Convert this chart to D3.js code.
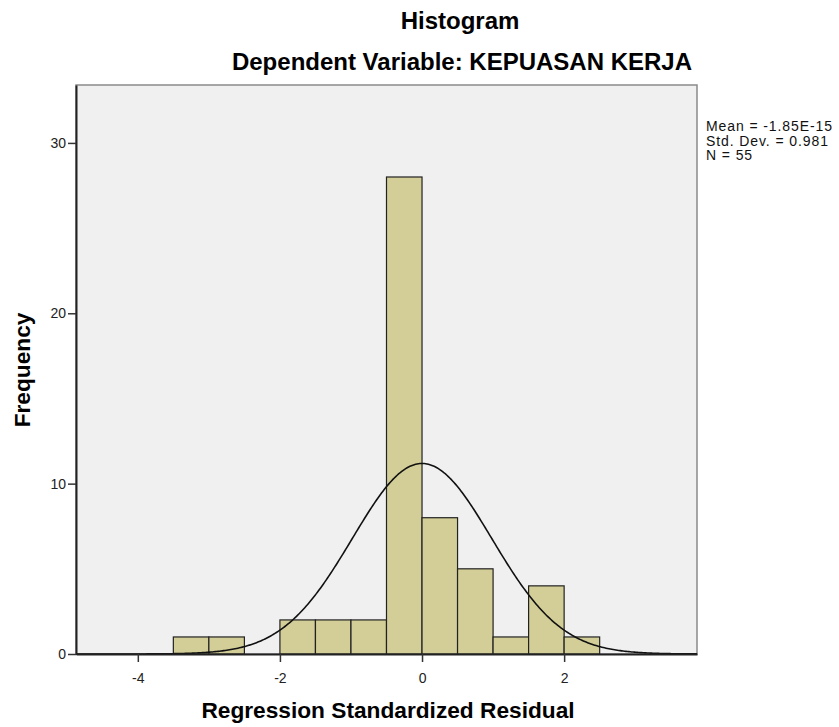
<!DOCTYPE html>
<html>
<head>
<meta charset="utf-8">
<script src="https://cdn.jsdelivr.net/npm/d3@7"></script>
<style>
  body { margin: 0; background: #fff; }
  text { font-family: Arial, "Liberation Sans", sans-serif; }
</style>
</head>
<body>
<script>
var width = 839,
    height = 727;

// bins of 0.5 width
var binStart = [-3.5, -3.0, -2.0, -1.5, -1.0, -0.5, 0.0, 0.5, 1.0, 1.5, 2.0];
var binCount = [1, 1, 2, 2, 2, 28, 8, 5, 1, 4, 1];
var binWidth = 0.5;

var xTicks = [-4, -2, 0, 2];
var yTicks = [0, 10, 20, 30];

var statMean = -1.85e-15,
    statSd = 0.981,
    statN = 55;
var statLabels = ["Mean = -1.85E-15", "Std. Dev. = 0.981", "N = 55"];

var m = {left: 76, right: 697, top: 85, bottom: 654};

var x = d3.scaleLinear()
    .domain([-4.87, 3.87])
    .range([m.left, m.right]);

var y = d3.scaleLinear()
    .domain([0, 33.4])
    .range([m.bottom, m.top]);

var svg = d3.select("body").append("svg")
    .attr("width", width)
    .attr("height", height);

// plot background
svg.append("rect")
    .attr("x", m.left)
    .attr("y", m.top)
    .attr("width", m.right - m.left)
    .attr("height", m.bottom - m.top)
    .attr("fill", "#f0f0f0")
    .attr("stroke", "#8a8a8a")
    .attr("stroke-width", 1.5);

// bars
svg.selectAll("rect.bar")
    .data(binStart)
    .enter().append("rect")
    .attr("class", "bar")
    .attr("x", function(d) { return x(d); })
    .attr("y", function(d, i) { return y(binCount[i]); })
    .attr("width", function(d) { return x(d + binWidth) - x(d); })
    .attr("height", function(d, i) { return y(0) - y(binCount[i]); })
    .attr("fill", "#d3ce97")
    .attr("stroke", "#222")
    .attr("stroke-width", 1.2);

// normal curve from the reported statistics
var curveX = d3.range(x.domain()[0], x.domain()[1] + 0.001, 0.02);
var norm = function(v) {
  var z = (v - statMean) / statSd;
  return statN * binWidth * Math.exp(-0.5 * z * z) / (statSd * Math.sqrt(2 * Math.PI));
};
svg.append("path")
    .datum(curveX)
    .attr("d", d3.line()
      .x(function(d) { return x(d); })
      .y(function(d) { return y(norm(d)); }))
    .attr("fill", "none")
    .attr("stroke", "#111")
    .attr("stroke-width", 1.6);

// axes (plain hyphen for negatives, like the original)
var fmt = function(d) { return String(d); };
var xAxis = svg.append("g")
    .attr("transform", "translate(0," + m.bottom + ")")
    .call(d3.axisBottom(x).tickValues(xTicks).tickSize(8).tickSizeOuter(0).tickFormat(fmt));
var yAxis = svg.append("g")
    .attr("transform", "translate(" + m.left + ",0)")
    .call(d3.axisLeft(y).tickValues(yTicks).tickSize(8).tickSizeOuter(0).tickFormat(fmt));

[xAxis, yAxis].forEach(function(g) {
  g.select(".domain").attr("stroke", "#222").attr("stroke-width", 2);
  g.selectAll(".tick line").attr("stroke", "#333").attr("stroke-width", 1.5);
  g.selectAll(".tick text")
    .attr("fill", "#222")
    .style("font-size", "14px")
    .style("font-family", "Arial, 'Liberation Sans', sans-serif");
});
xAxis.selectAll(".tick text").attr("dy", "1.25em");
yAxis.selectAll(".tick text").attr("x", -10);

// titles
svg.append("text")
    .attr("x", 460).attr("y", 29)
    .attr("text-anchor", "middle")
    .style("font-size", "24px").style("font-weight", "bold")
    .text("Histogram");
svg.append("text")
    .attr("x", 462).attr("y", 70)
    .attr("text-anchor", "middle")
    .style("font-size", "24px").style("font-weight", "bold")
    .text("Dependent Variable: KEPUASAN KERJA");

svg.append("text")
    .attr("x", 388).attr("y", 718)
    .attr("text-anchor", "middle")
    .style("font-size", "22.7px").style("font-weight", "bold")
    .text("Regression Standardized Residual");
svg.append("text")
    .attr("transform", "translate(30," + 370 + ") rotate(-90)")
    .attr("text-anchor", "middle")
    .style("font-size", "22.7px").style("font-weight", "bold")
    .text("Frequency");

// stats box
svg.selectAll("text.stat")
    .data(statLabels)
    .enter().append("text")
    .attr("class", "stat")
    .attr("x", 706)
    .attr("y", function(d, i) { return 131 + i * 14.5; })
    .style("font-size", "14px")
    .style("letter-spacing", "0.9px")
    .attr("fill", "#111")
    .text(function(d) { return d; });
</script>
</body>
</html>
